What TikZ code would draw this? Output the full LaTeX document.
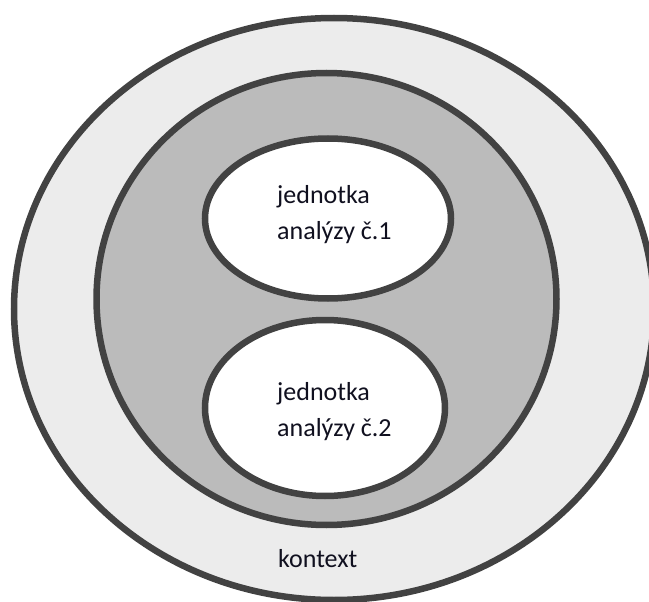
\documentclass[tikz,border=0pt]{standalone}
\usepackage{fontspec}
\setmainfont{Carlito}
\usetikzlibrary{shapes.geometric}
\definecolor{rim}{HTML}{424242}
\definecolor{ctxfill}{HTML}{ECECEC}
\definecolor{casefill}{HTML}{BBBBBB}
\definecolor{inktext}{HTML}{10101F}
\tikzset{
  ring/.style={ellipse, draw=rim, line width=6.5pt, inner sep=0pt},
  label/.style={anchor=base west, inner sep=0pt, text=inktext,
    font=\fontsize{26}{36}\selectfont}
}
\begin{document}
\begin{tikzpicture}[x=1pt, y=-1pt]
  \useasboundingbox (0,0) rectangle (649,602);
  \fill[white] (0,0) rectangle (649,602);
  % context, case and the two units of analysis
  \node[ring, fill=ctxfill, minimum width=640pt, minimum height=582pt] (ctx) at (334,309) {};
  \node[ring, fill=casefill, minimum width=460pt, minimum height=452pt] (case) at (326.5,299) {};
  \node[ring, fill=white, minimum width=246pt, minimum height=160pt] (unitA) at (328,218.5) {};
  \node[ring, fill=white, minimum width=240pt, minimum height=176pt] (unitB) at (325,408) {};
  % labels
  \node[label] (labA) at (277,204) {\begin{tabular}[t]{@{}l@{}}jednotka\\analýzy č.1\end{tabular}};
  \node[label] (labB) at (277,400) {\begin{tabular}[t]{@{}l@{}}jednotka\\analýzy č.2\end{tabular}};
  \node[label] (labCtx) at (278,567) {kontext};
\end{tikzpicture}
\end{document}
